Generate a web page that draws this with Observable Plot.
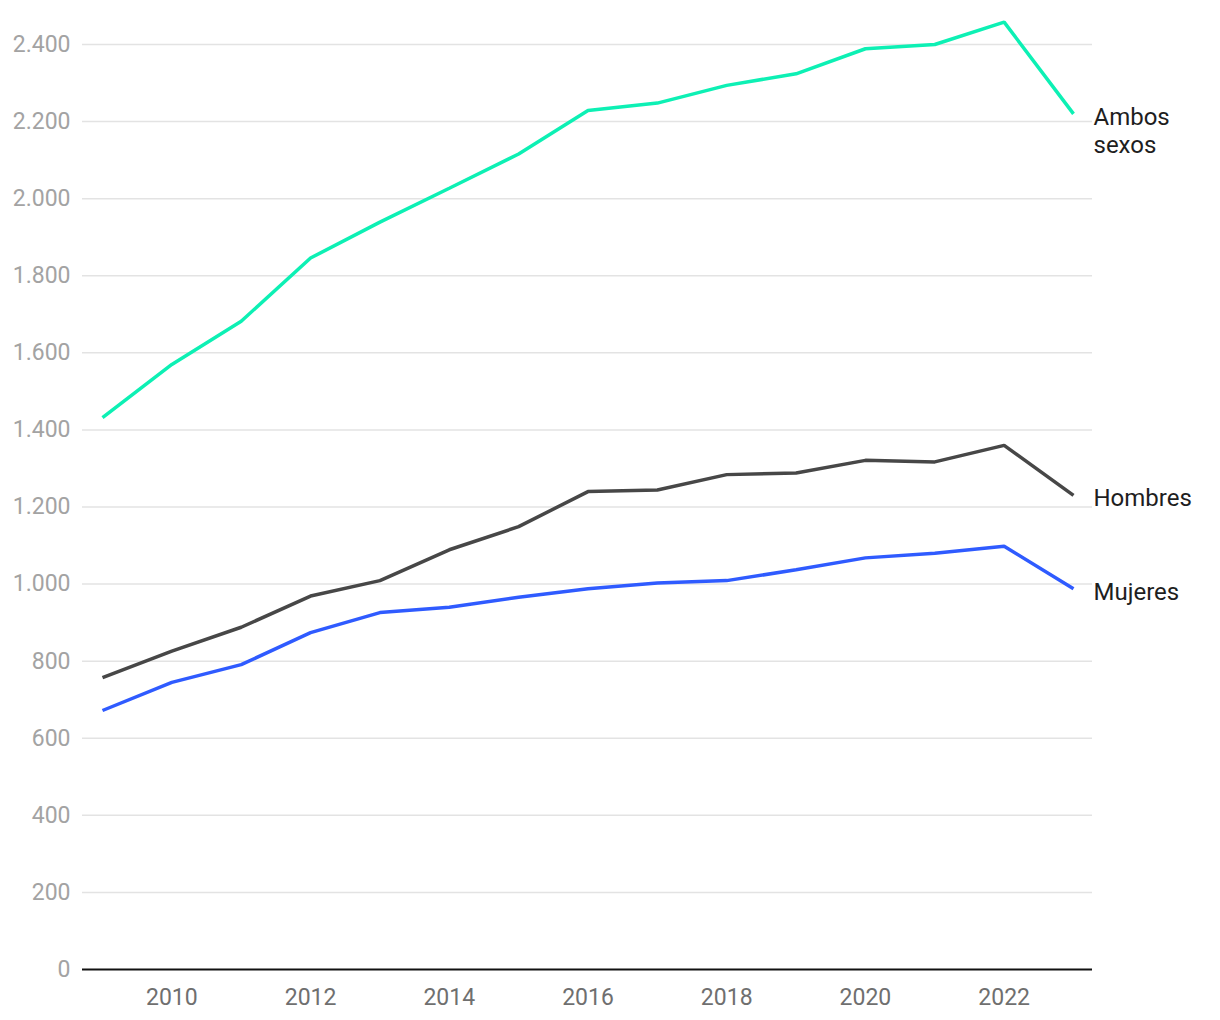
<!DOCTYPE html>
<html>
<head>
<meta charset="utf-8">
<script src="https://cdn.jsdelivr.net/npm/d3@7"></script>
<script src="https://cdn.jsdelivr.net/npm/@observablehq/plot@0.6"></script>
<style>
  html, body { margin: 0; padding: 0; background: #fff; }
  #chart { width: 1220px; height: 1020px; }
  svg { font-family: Roboto, "Noto Sans", sans-serif; }
</style>
</head>
<body>
<div id="chart"></div>
<script>
const years = [2009, 2010, 2011, 2012, 2013, 2014, 2015, 2016, 2017, 2018, 2019, 2020, 2021, 2022, 2023];
const ambosSexos = [1432, 1570, 1682, 1846, 1939, 2027, 2116, 2229, 2248, 2294, 2324, 2389, 2400, 2458, 2220];
const hombres   = [757, 826, 888, 969, 1009, 1089, 1149, 1240, 1244, 1284, 1288, 1321, 1317, 1360, 1230];
const mujeres   = [672, 745, 791, 874, 926, 940, 966, 988, 1003, 1009, 1037, 1068, 1080, 1098, 988];
const seriesNames = ["Ambos sexos", "Hombres", "Mujeres"];
const seriesLabels = ["Ambos\nsexos", "Hombres", "Mujeres"];
const seriesColors = ["#0df0b4", "#474747", "#2f5bff"];
const yTicks = [0, 200, 400, 600, 800, 1000, 1200, 1400, 1600, 1800, 2000, 2200, 2400];
const xTicks = [2010, 2012, 2014, 2016, 2018, 2020, 2022];

const seriesValues = [ambosSexos, hombres, mujeres];
const data = [];
seriesNames.forEach((name, i) => {
  years.forEach((year, j) => data.push({series: name, year, value: seriesValues[i][j]}));
});
const last = seriesNames.map((name, i) => ({
  series: name, label: seriesLabels[i], year: years[years.length - 1],
  value: seriesValues[i][years.length - 1]
}));

const fmt = d3.formatLocale({decimal: ",", thousands: ".", grouping: [3], currency: ["", " €"]}).format(",d");

const chart = Plot.plot({
  width: 1220,
  height: 1020,
  marginLeft: 82,
  marginRight: 128,
  marginTop: 44,
  marginBottom: 51,
  style: {fontFamily: "Roboto, 'Noto Sans', sans-serif", fontSize: "23px", background: "#fff"},
  x: {domain: [2009, 2023], insetLeft: 20, insetRight: 19},
  y: {domain: [0, 2400]},
  color: {domain: seriesNames, range: seriesColors},
  marks: [
    Plot.gridY(yTicks.filter(d => d > 0), {stroke: "#e3e3e3", strokeOpacity: 1, strokeWidth: 1.5}),
    Plot.axisY(yTicks, {tickSize: 0, tickPadding: 12, tickFormat: fmt, fill: "#a3a3a3", fontSize: 23, label: null}),
    Plot.axisX(xTicks, {tickSize: 0, tickPadding: 19, tickFormat: d => String(d), fill: "#6f6f6f", fontSize: 23, label: null}),
    Plot.line(data, {x: "year", y: "value", z: "series", stroke: "series", strokeWidth: 3.5, strokeLinejoin: "miter", strokeLinecap: "butt"}),
    Plot.ruleY([0], {stroke: "#111", strokeWidth: 2}),
    Plot.text(last, {x: "year", y: "value", text: "label", textAnchor: "start", lineAnchor: "top", dx: 20, dy: -9, fontSize: 24, fill: "#1e1e1e", lineHeight: 1.17})
  ]
});
document.getElementById("chart").appendChild(chart);
</script>
</body>
</html>
